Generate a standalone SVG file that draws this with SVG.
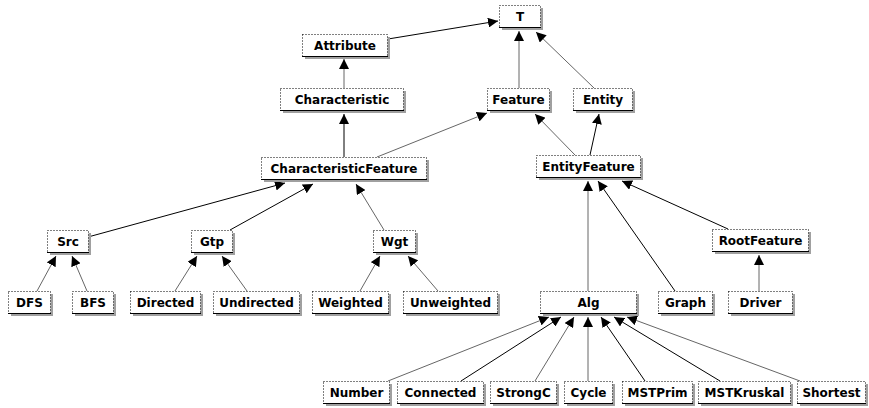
<svg xmlns="http://www.w3.org/2000/svg" width="869" height="408" viewBox="0 0 869 408">
<style>
.sh{fill:#a0a0a0}
.bx{fill:#fff;stroke:#000;stroke-width:1;stroke-dasharray:1,2}
.ul{stroke:#000;stroke-width:1}
text{font-family:"DejaVu Sans",Verdana,sans-serif;font-weight:bold;font-size:12px;text-anchor:middle;fill:#000}
.k{stroke:#000;stroke-width:1;fill:none;marker-end:url(#tri)}
.g{stroke:#666;stroke-width:1;fill:none;marker-end:url(#tri)}
</style>
<defs>
<marker id="tri" markerUnits="userSpaceOnUse" markerWidth="10" markerHeight="10" refX="10" refY="5" orient="auto" viewBox="0 0 10 10">
<path d="M0,0 L10,5 L0,10 Z" fill="#000"/>
</marker>
</defs>
<rect width="869" height="408" fill="#fff"/>
<g id="connectors">
<line class="k" x1="388" y1="39" x2="498" y2="21"/>
<line class="g" x1="519" y1="88" x2="519" y2="31"/>
<line class="g" x1="594" y1="88" x2="536" y2="32"/>
<line class="g" x1="344" y1="88" x2="344" y2="59"/>
<line class="k" x1="344" y1="157" x2="344" y2="114"/>
<line class="g" x1="377" y1="157" x2="487" y2="113"/>
<line class="g" x1="575" y1="155" x2="535" y2="114"/>
<line class="k" x1="590" y1="155" x2="599" y2="114"/>
<line class="k" x1="88" y1="237" x2="285" y2="183"/>
<line class="k" x1="230" y1="230" x2="313" y2="184"/>
<line class="g" x1="384" y1="230" x2="356" y2="184"/>
<line class="g" x1="37" y1="291" x2="56" y2="256"/>
<line class="g" x1="87" y1="291" x2="72" y2="256"/>
<line class="g" x1="175" y1="291" x2="197" y2="256"/>
<line class="g" x1="247" y1="291" x2="222" y2="256"/>
<line class="g" x1="360" y1="291" x2="380" y2="256"/>
<line class="g" x1="438" y1="291" x2="408" y2="256"/>
<line class="g" x1="588" y1="291" x2="588" y2="181"/>
<line class="k" x1="675" y1="291" x2="598" y2="181"/>
<line class="k" x1="728" y1="229" x2="622" y2="181"/>
<line class="g" x1="759" y1="291" x2="759" y2="255"/>
<line class="g" x1="388" y1="381" x2="549" y2="317"/>
<line class="k" x1="461" y1="381" x2="561" y2="317"/>
<line class="g" x1="535" y1="381" x2="574" y2="317"/>
<line class="g" x1="588" y1="381" x2="588" y2="317"/>
<line class="k" x1="645" y1="381" x2="601" y2="317"/>
<line class="k" x1="720" y1="381" x2="614" y2="317"/>
<line class="g" x1="800" y1="381" x2="627" y2="317"/>
</g>
<g id="n-T"><rect class="sh" x="502" y="8" width="41" height="22"/><rect class="bx" x="499.5" y="5.5" width="41" height="22"/><line class="ul" x1="499" y1="27.5" x2="541" y2="27.5"/><text x="520" y="21">T</text></g>
<g id="n-Attribute"><rect class="sh" x="305" y="37" width="85" height="22"/><rect class="bx" x="302.5" y="34.5" width="85" height="22"/><line class="ul" x1="302" y1="56.5" x2="388" y2="56.5"/><text x="345" y="50">Attribute</text></g>
<g id="n-Characteristic"><rect class="sh" x="283" y="91" width="123" height="22"/><rect class="bx" x="280.5" y="88.5" width="123" height="22"/><line class="ul" x1="280" y1="110.5" x2="404" y2="110.5"/><text x="342" y="104">Characteristic</text></g>
<g id="n-Feature"><rect class="sh" x="490" y="91" width="62" height="22"/><rect class="bx" x="487.5" y="88.5" width="62" height="22"/><line class="ul" x1="487" y1="110.5" x2="550" y2="110.5"/><text x="518.5" y="104">Feature</text></g>
<g id="n-Entity"><rect class="sh" x="576" y="91" width="59" height="22"/><rect class="bx" x="573.5" y="88.5" width="59" height="22"/><line class="ul" x1="573" y1="110.5" x2="633" y2="110.5"/><text x="603" y="104">Entity</text></g>
<g id="n-CharacteristicFeature"><rect class="sh" x="264" y="160" width="165" height="22"/><rect class="bx" x="261.5" y="157.5" width="165" height="22"/><line class="ul" x1="261" y1="179.5" x2="427" y2="179.5"/><text x="344" y="173">CharacteristicFeature</text></g>
<g id="n-EntityFeature"><rect class="sh" x="539" y="158" width="104" height="22"/><rect class="bx" x="536.5" y="155.5" width="104" height="22"/><line class="ul" x1="536" y1="177.5" x2="641" y2="177.5"/><text x="588.5" y="171">EntityFeature</text></g>
<g id="n-Src"><rect class="sh" x="50" y="233" width="41" height="22"/><rect class="bx" x="47.5" y="230.5" width="41" height="22"/><line class="ul" x1="47" y1="252.5" x2="89" y2="252.5"/><text x="68" y="246">Src</text></g>
<g id="n-Gtp"><rect class="sh" x="194" y="233" width="41" height="22"/><rect class="bx" x="191.5" y="230.5" width="41" height="22"/><line class="ul" x1="191" y1="252.5" x2="233" y2="252.5"/><text x="212" y="246">Gtp</text></g>
<g id="n-Wgt"><rect class="sh" x="376" y="233" width="42" height="22"/><rect class="bx" x="373.5" y="230.5" width="42" height="22"/><line class="ul" x1="373" y1="252.5" x2="416" y2="252.5"/><text x="394.5" y="246">Wgt</text></g>
<g id="n-RootFeature"><rect class="sh" x="715" y="232" width="96" height="22"/><rect class="bx" x="712.5" y="229.5" width="96" height="22"/><line class="ul" x1="712" y1="251.5" x2="809" y2="251.5"/><text x="760.5" y="245">RootFeature</text></g>
<g id="n-DFS"><rect class="sh" x="11" y="294" width="42" height="22"/><rect class="bx" x="8.5" y="291.5" width="42" height="22"/><line class="ul" x1="8" y1="313.5" x2="51" y2="313.5"/><text x="29.5" y="307">DFS</text></g>
<g id="n-BFS"><rect class="sh" x="75" y="294" width="41" height="22"/><rect class="bx" x="72.5" y="291.5" width="41" height="22"/><line class="ul" x1="72" y1="313.5" x2="114" y2="313.5"/><text x="93" y="307">BFS</text></g>
<g id="n-Directed"><rect class="sh" x="133" y="294" width="70" height="22"/><rect class="bx" x="130.5" y="291.5" width="70" height="22"/><line class="ul" x1="130" y1="313.5" x2="201" y2="313.5"/><text x="165.5" y="307">Directed</text></g>
<g id="n-Undirected"><rect class="sh" x="216" y="294" width="86" height="22"/><rect class="bx" x="213.5" y="291.5" width="86" height="22"/><line class="ul" x1="213" y1="313.5" x2="300" y2="313.5"/><text x="256.5" y="307">Undirected</text></g>
<g id="n-Weighted"><rect class="sh" x="315" y="294" width="76" height="22"/><rect class="bx" x="312.5" y="291.5" width="76" height="22"/><line class="ul" x1="312" y1="313.5" x2="389" y2="313.5"/><text x="350.5" y="307">Weighted</text></g>
<g id="n-Unweighted"><rect class="sh" x="406" y="294" width="94" height="22"/><rect class="bx" x="403.5" y="291.5" width="94" height="22"/><line class="ul" x1="403" y1="313.5" x2="498" y2="313.5"/><text x="450.5" y="307">Unweighted</text></g>
<g id="n-Alg"><rect class="sh" x="543" y="294" width="96" height="22"/><rect class="bx" x="540.5" y="291.5" width="96" height="22"/><line class="ul" x1="540" y1="313.5" x2="637" y2="313.5"/><text x="588.5" y="307">Alg</text></g>
<g id="n-Graph"><rect class="sh" x="661" y="294" width="54" height="22"/><rect class="bx" x="658.5" y="291.5" width="54" height="22"/><line class="ul" x1="658" y1="313.5" x2="713" y2="313.5"/><text x="685.5" y="307">Graph</text></g>
<g id="n-Driver"><rect class="sh" x="731" y="294" width="64" height="22"/><rect class="bx" x="728.5" y="291.5" width="64" height="22"/><line class="ul" x1="728" y1="313.5" x2="793" y2="313.5"/><text x="760.5" y="307">Driver</text></g>
<g id="n-Number"><rect class="sh" x="326" y="384" width="66" height="22"/><rect class="bx" x="323.5" y="381.5" width="66" height="22"/><line class="ul" x1="323" y1="403.5" x2="390" y2="403.5"/><text x="356.5" y="397">Number</text></g>
<g id="n-Connected"><rect class="sh" x="400" y="384" width="86" height="22"/><rect class="bx" x="397.5" y="381.5" width="86" height="22"/><line class="ul" x1="397" y1="403.5" x2="484" y2="403.5"/><text x="440.5" y="397">Connected</text></g>
<g id="n-StrongC"><rect class="sh" x="493" y="384" width="66" height="22"/><rect class="bx" x="490.5" y="381.5" width="66" height="22"/><line class="ul" x1="490" y1="403.5" x2="557" y2="403.5"/><text x="523.5" y="397">StrongC</text></g>
<g id="n-Cycle"><rect class="sh" x="567" y="384" width="48" height="22"/><rect class="bx" x="564.5" y="381.5" width="48" height="22"/><line class="ul" x1="564" y1="403.5" x2="613" y2="403.5"/><text x="588.5" y="397">Cycle</text></g>
<g id="n-MSTPrim"><rect class="sh" x="625" y="384" width="70" height="22"/><rect class="bx" x="622.5" y="381.5" width="70" height="22"/><line class="ul" x1="622" y1="403.5" x2="693" y2="403.5"/><text x="657.5" y="397">MSTPrim</text></g>
<g id="n-MSTKruskal"><rect class="sh" x="701" y="384" width="92" height="22"/><rect class="bx" x="698.5" y="381.5" width="92" height="22"/><line class="ul" x1="698" y1="403.5" x2="791" y2="403.5"/><text x="744.5" y="397">MSTKruskal</text></g>
<g id="n-Shortest"><rect class="sh" x="800" y="384" width="68" height="22"/><rect class="bx" x="797.5" y="381.5" width="68" height="22"/><line class="ul" x1="797" y1="403.5" x2="866" y2="403.5"/><text x="831.5" y="397">Shortest</text></g>
</svg>
